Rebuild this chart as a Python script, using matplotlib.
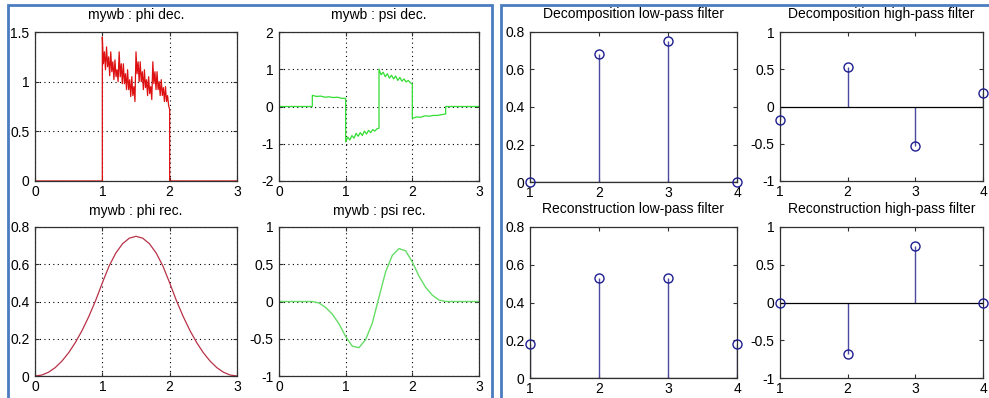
import numpy as np
import matplotlib
matplotlib.use("Agg")
import matplotlib.pyplot as plt
from matplotlib.patches import Rectangle

# ---------------- data ----------------
# phi dec. : samples on [1, 2] (step 1/64)
phi_dec_y = [1.45, 1.18, 1.30, 1.12, 1.35, 1.15, 1.25, 1.06, 1.30, 1.10, 1.20, 1.02, 1.22, 1.05, 1.12, 1.00,
             1.30, 1.05, 1.18, 0.98, 1.18, 0.98, 1.08, 0.92, 1.12, 0.92, 1.02, 0.85, 1.05, 0.86, 0.95, 0.80,
             1.30, 1.08, 1.20, 1.00, 1.20, 1.00, 1.10, 0.92, 1.12, 0.94, 1.02, 0.86, 1.05, 0.88, 0.95, 0.82,
             1.20, 0.98, 1.10, 0.92, 1.10, 0.92, 1.00, 0.86, 1.02, 0.86, 0.94, 0.80, 0.95, 0.80, 0.86, 0.76, 0.72]

# psi dec. : four pieces on [0.5,1], [1,1.5], [1.5,2], [2,2.5]
psi_dec_seg1 = [0.30, 0.27, 0.28, 0.25, 0.26, 0.24, 0.25, 0.22, 0.22]
psi_dec_seg2 = [-0.95, -0.82, -0.90, -0.78, -0.85, -0.72, -0.80, -0.70, -0.78,
                -0.66, -0.74, -0.64, -0.70, -0.62, -0.66, -0.60, -0.58]
psi_dec_seg3 = [1.00, 0.85, 0.92, 0.80, 0.88, 0.76, 0.84, 0.74, 0.82,
                0.70, 0.78, 0.68, 0.74, 0.66, 0.70, 0.64, 0.60]
psi_dec_seg4 = [-0.32, -0.28, -0.29, -0.25, -0.26, -0.24, -0.24, -0.22, -0.20]

# phi rec. / psi rec. : samples on [0, 3] (step 0.1)
phi_rec_y = [0, 0.005, 0.02, 0.045, 0.08, 0.125, 0.18, 0.245, 0.32, 0.405, 0.50,
             0.59, 0.66, 0.71, 0.74, 0.75, 0.74, 0.71, 0.66, 0.59, 0.50,
             0.405, 0.32, 0.245, 0.18, 0.125, 0.08, 0.045, 0.02, 0.005, 0]
psi_rec_y = [0, 0, 0, 0, 0, 0, -0.02, -0.08, -0.17, -0.30, -0.47,
             -0.60, -0.62, -0.51, -0.29, 0.06, 0.40, 0.62, 0.71, 0.68, 0.53,
             0.34, 0.19, 0.085, 0.02, 0, 0, 0, 0, 0, 0]

# filters
filt_idx = [1, 2, 3, 4]
dec_lo = [0.0, 0.68, 0.75, 0.0]
dec_hi = [-0.18, 0.53, -0.53, 0.18]
rec_lo = [0.18, 0.53, 0.53, 0.18]
rec_hi = [0.0, -0.68, 0.75, 0.0]

titles_left = ["mywb : phi dec.", "mywb : psi dec.", "mywb : phi rec.", "mywb : psi rec."]
titles_right = ["Decomposition low-pass filter", "Decomposition high-pass filter",
                "Reconstruction low-pass filter", "Reconstruction high-pass filter"]

# ---------------- figure ----------------
W, H = 989, 398
plt.rcParams['font.family'] = ['Liberation Sans', 'DejaVu Sans']
fig = plt.figure(figsize=(W / 100, H / 100), dpi=100)
fig.patch.set_facecolor('white')

FS = 10


def rect(l, t, r, b):
    return [l / W, 1 - b / H, (r - l) / W, (b - t) / H]


def style(ax, grid):
    for s in ax.spines.values():
        s.set_color('#303030')
        s.set_linewidth(0.9)
    ax.tick_params(direction='in', length=3, width=0.8, top=True, right=True,
                   labelsize=FS, colors='#303030', labelcolor='black')
    ax.tick_params(axis='x', pad=3)
    ax.tick_params(axis='y', pad=4)
    if grid:
        ax.grid(True, color='black', linestyle=(0, (1, 3)), linewidth=0.8)


def ticklab(v):
    return ('%g' % v)


# left panel
ax1 = fig.add_axes(rect(35, 32, 237, 181))
ax2 = fig.add_axes(rect(279, 32, 479, 181))
ax3 = fig.add_axes(rect(35, 227, 237, 376))
ax4 = fig.add_axes(rect(279, 227, 479, 376))

x_pd = np.linspace(1, 2, len(phi_dec_y))
ax1.plot(np.concatenate([[0, 1], x_pd, [2, 3]]),
         np.concatenate([[0, 0], phi_dec_y, [0, 0]]), color='#dd1111', lw=0.9)
ax1.set_xlim(0, 3); ax1.set_ylim(0, 1.5)
ax1.set_yticks([0, 0.5, 1, 1.5])

xs = [[0, 0.5]]
ys = [[0, 0]]
for seg, (a, b) in zip([psi_dec_seg1, psi_dec_seg2, psi_dec_seg3, psi_dec_seg4],
                       [(0.5, 1), (1, 1.5), (1.5, 2), (2, 2.5)]):
    xs.append(np.linspace(a, b, len(seg)))
    ys.append(seg)
xs.append([2.5, 3]); ys.append([0, 0])
ax2.plot(np.concatenate(xs), np.concatenate(ys), color='#33dd33', lw=0.9)
ax2.set_xlim(0, 3); ax2.set_ylim(-2, 2)
ax2.set_yticks([-2, -1, 0, 1, 2])

x_rec = np.linspace(0, 3, len(phi_rec_y))
ax3.plot(x_rec, phi_rec_y, color='#b83248', lw=0.9)
ax3.set_xlim(0, 3); ax3.set_ylim(0, 0.8)
ax3.set_yticks([0, 0.2, 0.4, 0.6, 0.8])

ax4.plot(x_rec, psi_rec_y, color='#66dd66', lw=1.0)
ax4.set_xlim(0, 3); ax4.set_ylim(-1, 1)
ax4.set_yticks([-1, -0.5, 0, 0.5, 1])

for ax, t in zip([ax1, ax2, ax3, ax4], titles_left):
    style(ax, True)
    ax.set_xticks([0, 1, 2, 3])
    ax.set_yticklabels([ticklab(v) for v in ax.get_yticks()])
    ax.set_title(t, fontsize=FS, pad=9)

# right panel
ax5 = fig.add_axes(rect(530, 32, 737, 182))
ax6 = fig.add_axes(rect(780, 32, 983, 181))
ax7 = fig.add_axes(rect(530, 227, 737, 378))
ax8 = fig.add_axes(rect(780, 227, 983, 378))

for ax, vals, t, lo in zip([ax5, ax6, ax7, ax8], [dec_lo, dec_hi, rec_lo, rec_hi],
                           titles_right, [True, False, True, False]):
    ml, sl, bl = ax.stem(filt_idx, vals)
    plt.setp(sl, color='#4a4aa0', linewidth=1.0)
    plt.setp(ml, markerfacecolor='none', markeredgecolor='#1e1e90', markersize=6.5,
             markeredgewidth=1.0, clip_on=False, zorder=5)
    plt.setp(bl, color='black', linewidth=0.9)
    ax.set_xlim(1, 4)
    ax.set_xticks(filt_idx)
    if lo:
        ax.set_ylim(0, 0.8)
        ax.set_yticks([0, 0.2, 0.4, 0.6, 0.8])
    else:
        ax.set_ylim(-1, 1)
        ax.set_yticks([-1, -0.5, 0, 0.5, 1])
    style(ax, False)
    ax.set_yticklabels([ticklab(v) for v in ax.get_yticks()])
    ax.set_title(t, fontsize=FS, pad=10)

# blue panel frames
fig.patches.append(Rectangle((8 / W, -0.05), (492 - 8) / W, 1.05 - 5 / H, transform=fig.transFigure,
                             fill=False, edgecolor='#4a7cc0', linewidth=2.0, zorder=10))
fig.patches.append(Rectangle((501 / W, -0.05), 0.6, 1.05 - 5 / H, transform=fig.transFigure,
                             fill=False, edgecolor='#4a7cc0', linewidth=2.0, zorder=10))

fig.savefig('out.png', dpi=100, facecolor='white')
